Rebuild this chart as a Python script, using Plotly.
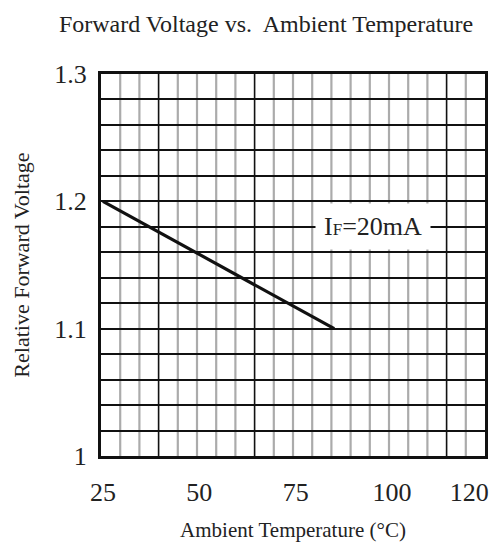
import plotly.graph_objects as go

# ---- data ----
temp_c = [25, 85]
rel_vf = [1.2, 1.1]
x_tick_vals = [25, 50, 75, 100, 120]
x_tick_text = ["25", "50", "75", "100", "120"]
y_tick_vals = [1.0, 1.1, 1.2, 1.3]
y_tick_text = ["1", "1.1", "1.2", "1.3"]
x_range = [24.5, 124.1]
y_range = [1.0, 1.3]
label_text = "I<span style='font-size:17px'>F</span>=20mA"
label_pos = (95, 1.18)

# grid styling (reference grid has 20 columns; a few are dark)
n_cols = 20
dark_cols = [3, 8, 18]

FONT = "Liberation Serif, Times New Roman, serif"
BLACK = "#111111"
GRAY = "#ababab"
W, H = 501, 543
PAGE_OFF = 8  # browser body margin

fig = go.Figure()
fig.add_trace(go.Scatter(
    x=temp_c, y=rel_vf, mode="lines",
    line=dict(color=BLACK, width=3.2),
    showlegend=False, hoverinfo="skip",
))

shapes = []
for i in range(1, n_cols):
    dark = i in dark_cols
    shapes.append(dict(
        type="line", xref="x domain", yref="y domain",
        x0=i / n_cols, x1=i / n_cols, y0=0, y1=1,
        line=dict(color=BLACK if dark else GRAY, width=1.6 if dark else 2.2),
        layer="below",
    ))

fig.update_layout(
    width=W, height=H,
    margin=dict(l=101 - PAGE_OFF, r=W - 485 + PAGE_OFF, t=74 - PAGE_OFF,
                b=H - 456 + PAGE_OFF, autoexpand=False),
    paper_bgcolor="white", plot_bgcolor="white",
    font=dict(family=FONT, color="#222222"),
    title=dict(
        text="Forward Voltage vs.&nbsp; Ambient Temperature",
        font=dict(size=24, family=FONT, color="#222222"),
        x=(266 - PAGE_OFF) / W, xref="container", xanchor="center",
        y=1 - (24 - PAGE_OFF) / H, yref="container", yanchor="middle",
    ),
    xaxis=dict(
        range=x_range, tickvals=x_tick_vals, ticktext=x_tick_text,
        tickfont=dict(size=26, family=FONT, color="#222222"),
        showgrid=False, zeroline=False,
        showline=True, linecolor=BLACK, linewidth=3, mirror=True,
        ticks="", ticklabelstandoff=11,
        title=dict(text="Ambient Temperature (°C)",
                   font=dict(size=21, family=FONT, color="#222222"),
                   standoff=17),
        automargin=False,
    ),
    yaxis=dict(
        range=y_range, tickvals=y_tick_vals, ticktext=y_tick_text,
        tickfont=dict(size=26, family=FONT, color="#222222"),
        showgrid=True, gridcolor=BLACK, gridwidth=1.5,
        minor=dict(dtick=0.02, tick0=1.0, showgrid=True, gridcolor=BLACK, gridwidth=1.5),
        zeroline=False,
        showline=True, linecolor=BLACK, linewidth=3, mirror=True,
        ticks="", ticklabelstandoff=6,
        title=dict(text="Relative Forward Voltage",
                   font=dict(size=22, family=FONT, color="#222222"),
                   standoff=19),
        automargin=False,
    ),
    shapes=shapes,
    annotations=[dict(
        x=label_pos[0], y=label_pos[1], xref="x", yref="y",
        text=label_text, showarrow=False,
        font=dict(size=26, family=FONT, color="#222222"),
        bgcolor="white", borderpad=8,
    )],
)

fig.write_html("out.html")
